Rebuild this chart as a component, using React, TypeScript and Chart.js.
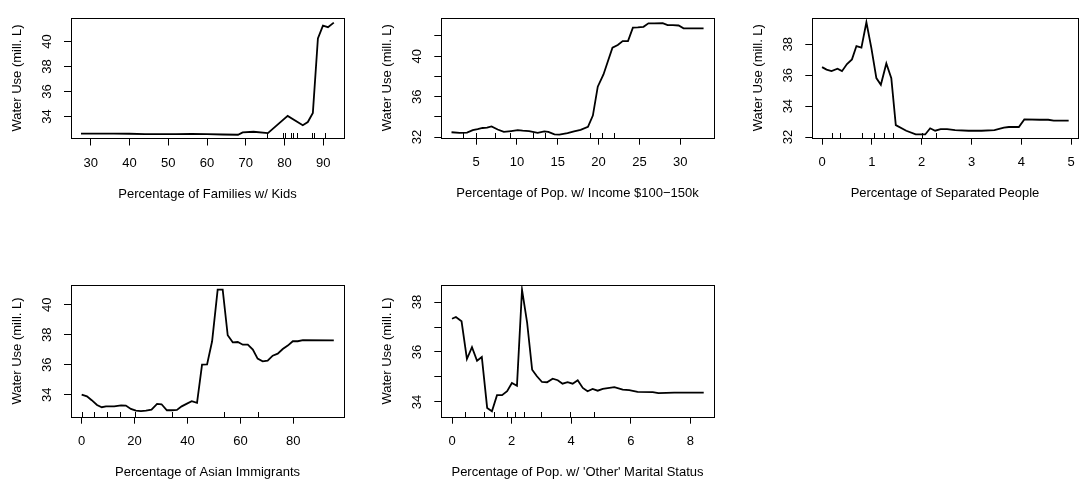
import React, { useEffect, useRef } from 'react';
import { Chart, registerables } from 'chart.js';

Chart.register(...registerables);

const W = 1085;
const H = 486;
const FONT = "'Liberation Sans', Arial, Helvetica, sans-serif";
const Y_TITLE = 'Water Use (mill. L)';

// ---------- Panel 1: Families w/ Kids ----------
const famX = [27.5, 32, 36, 40, 44, 48, 52, 56, 60, 64, 68, 69.2, 72, 75.7, 80.8, 84.7, 86, 87.3, 88.6, 89.9, 91.2, 92.7];
const famY = [32.62, 32.62, 32.62, 32.61, 32.58, 32.58, 32.58, 32.59, 32.58, 32.55, 32.53, 32.72, 32.77, 32.66, 34.04, 33.3, 33.55, 34.28, 40.25, 41.27, 41.15, 41.52];
const famRug = [75.5, 79.5, 80.1, 81.65, 82.3, 83.2, 87.0, 87.7, 90.4];
const famXTicks = [30, 40, 50, 60, 70, 80, 90];
const famYTicks = [34, 36, 38, 40];
const famYLabels = [34, 36, 38, 40];
const famXLim = [24.92, 95.33];
const famYLim = [32.23, 41.92];

// ---------- Panel 2: Income $100-150k ----------
const incX = [2.0, 3.0, 3.9, 4.6, 5.2, 5.8, 6.35, 6.9, 7.65, 8.4, 9.3, 10.1, 10.7, 11.5, 12.55, 13.35, 13.85, 14.6, 15.2, 16.2, 17.0, 17.8, 18.7, 19.3, 19.9, 20.6, 21.1, 21.7, 22.35, 22.95, 23.6, 24.2, 24.8, 25.5, 26.1, 26.8, 27.85, 28.45, 29.1, 29.8, 30.4, 32.85];
const incY = [32.48, 32.42, 32.45, 32.69, 32.78, 32.9, 32.93, 33.05, 32.75, 32.51, 32.6, 32.69, 32.63, 32.6, 32.42, 32.57, 32.51, 32.27, 32.24, 32.39, 32.57, 32.72, 33.02, 34.13, 36.99, 38.2, 39.4, 40.84, 41.11, 41.5, 41.5, 42.82, 42.85, 42.91, 43.25, 43.25, 43.28, 43.07, 43.07, 43.04, 42.76, 42.76];
const incRug = [3.37, 5.0, 7.32, 9.16, 11.94, 13.44, 18.95, 20.38, 21.92];
const incXTicks = [5, 10, 15, 20, 25, 30];
const incYTicks = [32, 34, 36, 38, 40, 42];
const incYLabels = [32, 36, 40];
const incXLim = [0.75, 34.09];
const incYLim = [31.94, 43.82];

// ---------- Panel 3: Separated People ----------
const sepX = [0, 0.09, 0.19, 0.31, 0.4, 0.5, 0.6, 0.69, 0.79, 0.89, 0.99, 1.09, 1.18, 1.29, 1.39, 1.48, 1.69, 1.88, 2.07, 2.17, 2.27, 2.38, 2.51, 2.67, 2.94, 3.2, 3.46, 3.65, 3.75, 3.95, 4.06, 4.37, 4.54, 4.65, 4.95];
const sepY = [36.52, 36.36, 36.26, 36.42, 36.26, 36.72, 37.02, 37.88, 37.78, 39.42, 37.75, 35.81, 35.38, 36.76, 35.81, 32.77, 32.41, 32.17, 32.17, 32.57, 32.41, 32.51, 32.51, 32.45, 32.41, 32.41, 32.45, 32.61, 32.65, 32.65, 33.14, 33.12, 33.12, 33.06, 33.06];
const sepRug = [0.19, 0.37, 0.8, 1.04, 1.24, 1.42, 2.0, 2.29];
const sepXTicks = [0, 1, 2, 3, 4, 5];
const sepYTicks = [32, 34, 36, 38];
const sepYLabels = [32, 34, 36, 38];
const sepXLim = [-0.196, 5.13];
const sepYLim = [31.96, 39.72];

// ---------- Panel 4: Asian Immigrants ----------
const asiX = [0, 2.0, 3.8, 5.8, 7.6, 9.2, 12.3, 14.9, 16.7, 18.6, 20.5, 22.4, 24.3, 26.4, 28.5, 30.2, 32.2, 34.1, 36.0, 37.8, 39.8, 41.6, 43.6, 45.5, 47.4, 49.3, 51.4, 53.3, 55.2, 57.1, 59.0, 60.9, 62.8, 64.7, 66.5, 68.4, 70.3, 72.2, 74.1, 76.0, 77.9, 79.8, 81.7, 83.6, 95.3];
const asiY = [34.0, 33.89, 33.63, 33.31, 33.16, 33.22, 33.22, 33.29, 33.27, 33.05, 32.94, 32.9, 32.94, 33.0, 33.38, 33.36, 32.96, 32.96, 32.98, 33.22, 33.4, 33.56, 33.45, 36.0, 36.02, 37.56, 41.0, 41.0, 37.96, 37.49, 37.51, 37.33, 37.33, 37.0, 36.4, 36.22, 36.27, 36.6, 36.73, 37.04, 37.27, 37.56, 37.56, 37.64, 37.62];
const asiRug = [0.3, 4.77, 9.56, 14.6, 20.2, 34.3, 53.8, 66.7];
const asiXTicks = [0, 20, 40, 60, 80];
const asiYTicks = [34, 36, 38, 40];
const asiYLabels = [34, 36, 38, 40];
const asiXLim = [-4.03, 99.15];
const asiYLim = [32.53, 41.29];

// ---------- Panel 5: 'Other' Marital Status ----------
const othX = [0, 0.13, 0.32, 0.5, 0.67, 0.84, 1.0, 1.18, 1.34, 1.51, 1.68, 1.85, 2.01, 2.18, 2.35, 2.52, 2.69, 2.85, 3.02, 3.19, 3.38, 3.55, 3.71, 3.88, 4.05, 4.22, 4.39, 4.55, 4.72, 4.89, 5.06, 5.45, 5.73, 5.95, 6.23, 6.74, 6.93, 7.46, 8.45];
const othY = [37.33, 37.4, 37.23, 35.72, 36.19, 35.65, 35.8, 33.76, 33.63, 34.27, 34.27, 34.43, 34.76, 34.65, 38.49, 37.19, 35.29, 35.03, 34.8, 34.79, 34.93, 34.87, 34.73, 34.79, 34.73, 34.87, 34.56, 34.43, 34.52, 34.45, 34.52, 34.59, 34.49, 34.47, 34.4, 34.39, 34.35, 34.37, 34.37];
const othRug = [0.44, 1.06, 1.4, 1.84, 2.11, 2.41, 3.0, 3.97, 4.78];
const othXTicks = [0, 2, 4, 6, 8];
const othYTicks = [34, 35, 36, 37, 38];
const othYLabels = [34, 36, 38];
const othXLim = [-0.36, 8.785];
const othYLim = [33.41, 38.67];

// ---------- Layout (page pixels): plot box [left, right, top, bottom] ----------
const BOXES = [
  [71, 344, 6, 138.5],
  [441.3, 713.7, 6, 137.7],
  [812.3, 1083.5, 6.5, 137.7],
  [71, 344, 285.3, 416.7],
  [441.3, 713.7, 285.3, 416.7],
];

type PanelDef = {
  title: string;
  xs: number[];
  ys: number[];
  rug: number[];
  xTicks: number[];
  yTicks: number[];
  yLabels: number[];
  xLim: number[];
  yLim: number[];
};

const PANELS: PanelDef[] = [
  { title: 'Percentage of Families w/ Kids', xs: famX, ys: famY, rug: famRug, xTicks: famXTicks, yTicks: famYTicks, yLabels: famYLabels, xLim: famXLim, yLim: famYLim },
  { title: 'Percentage of Pop. w/ Income $100\u2212150k', xs: incX, ys: incY, rug: incRug, xTicks: incXTicks, yTicks: incYTicks, yLabels: incYLabels, xLim: incXLim, yLim: incYLim },
  { title: 'Percentage of Separated People', xs: sepX, ys: sepY, rug: sepRug, xTicks: sepXTicks, yTicks: sepYTicks, yLabels: sepYLabels, xLim: sepXLim, yLim: sepYLim },
  { title: 'Percentage of Asian Immigrants', xs: asiX, ys: asiY, rug: asiRug, xTicks: asiXTicks, yTicks: asiYTicks, yLabels: asiYLabels, xLim: asiXLim, yLim: asiYLim },
  { title: "Percentage of Pop. w/ 'Other' Marital Status", xs: othX, ys: othY, rug: othRug, xTicks: othXTicks, yTicks: othYTicks, yLabels: othYLabels, xLim: othXLim, yLim: othYLim },
];

const Y_SCALE_W = 61.8; // y title centre sits 54px left of the box
const X_SCALE_H = 63.8; // x title centre sits 56px below the box
const TICK_LEN = 7;

const rugBoxPlugin = {
  id: 'rugBox',
  afterDatasetsDraw(chart: any, _args: any, opts: any) {
    const { ctx, chartArea: a, scales } = chart;
    ctx.save();
    ctx.strokeStyle = '#000';
    ctx.lineWidth = 1;
    const b = Math.round(a.bottom);
    ctx.beginPath();
    (opts.rug || []).forEach((v: number) => {
      const x = Math.round(scales.x.getPixelForValue(v)) + 0.5;
      ctx.moveTo(x, b);
      ctx.lineTo(x, b - 5);
    });
    ctx.stroke();
    const l = Math.round(a.left);
    const t = Math.round(a.top);
    ctx.strokeRect(l + 0.5, t + 0.5, Math.round(a.right) - l, b - t);
    ctx.restore();
  },
};

function PanelChart({ p, box }: { p: PanelDef; box: number[] }) {
  const ref = useRef<HTMLCanvasElement>(null);
  useEffect(() => {
    const [L, R, T, B] = box;
    const font = { family: FONT, size: 13 };
    const chart = new Chart(ref.current as HTMLCanvasElement, {
      type: 'line',
      data: {
        datasets: [
          {
            data: p.xs.map((x, i) => ({ x, y: p.ys[i] })),
            borderColor: '#000',
            borderWidth: 1.8,
            pointRadius: 0,
            tension: 0,
            fill: false,
          },
        ],
      },
      options: {
        responsive: false,
        animation: false,
        devicePixelRatio: 1,
        events: [],
        layout: { padding: { left: L - Y_SCALE_W, right: W - R, top: T, bottom: H - B - X_SCALE_H } },
        plugins: {
          legend: { display: false },
          tooltip: { enabled: false },
          rugBox: { rug: p.rug },
        } as any,
        scales: {
          x: {
            type: 'linear',
            position: 'bottom',
            min: p.xLim[0],
            max: p.xLim[1],
            bounds: 'data',
            afterBuildTicks: (s: any) => {
              s.ticks = p.xTicks.map((v) => ({ value: v }));
            },
            afterFit: (s: any) => {
              s.height = X_SCALE_H;
            },
            grid: { display: true, drawOnChartArea: false, drawTicks: true, tickLength: TICK_LEN, color: '#000', lineWidth: 1 },
            border: { display: false },
            ticks: { autoSkip: false, maxRotation: 0, minRotation: 0, padding: 10.2, color: '#000', font, callback: (v: any) => String(v) },
            title: { display: true, text: p.title, color: '#000', font, padding: 0 },
          },
          y: {
            type: 'linear',
            position: 'left',
            min: p.yLim[0],
            max: p.yLim[1],
            bounds: 'data',
            afterBuildTicks: (s: any) => {
              s.ticks = p.yTicks.map((v) => ({ value: v }));
            },
            afterFit: (s: any) => {
              s.width = Y_SCALE_W;
            },
            grid: { display: true, drawOnChartArea: false, drawTicks: true, tickLength: TICK_LEN, color: '#000', lineWidth: 1 },
            border: { display: false },
            ticks: {
              autoSkip: false,
              minRotation: 90,
              maxRotation: 90,
              crossAlign: 'center',
              padding: 9.8,
              color: '#000',
              font,
              callback: (v: any) => (p.yLabels.includes(Number(v)) ? String(v) : ''),
            },
            title: { display: true, text: Y_TITLE, color: '#000', font, padding: 0 },
          },
        },
      } as any,
      plugins: [rugBoxPlugin],
    });
    return () => chart.destroy();
  }, [p, box]);
  return <canvas ref={ref} width={W} height={H} style={{ position: 'absolute', left: 0, top: 0, width: W, height: H }} />;
}

export default function App() {
  return (
    <div style={{ position: 'fixed', left: 0, top: 0, width: W, height: H, background: '#fff', overflow: 'hidden' }}>
      {PANELS.map((p, i) => (
        <PanelChart key={i} p={p} box={BOXES[i]} />
      ))}
    </div>
  );
}
